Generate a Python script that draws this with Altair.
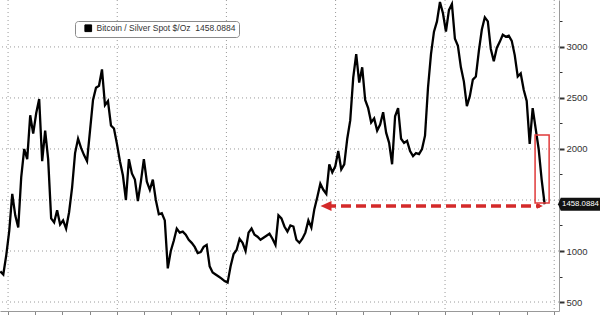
import altair as alt
import pandas as pd

# ---- data (10-day steps from 2020-12-06) ----
start_date = "2020-12-06"
ratio = [
    800, 770, 960, 1200, 1560, 1350, 1230, 1725, 2000, 1900,
    2330, 2150, 2350, 2490, 1880, 2180, 1900, 1320, 1280, 1400,
    1260, 1300, 1220, 1380, 1620, 1960, 2100, 2010, 1940, 1880,
    2180, 2480, 2600, 2620, 2780, 2430, 2470, 2230, 2200, 2050,
    1880, 1740, 1500, 1900, 1760, 1700, 1490, 1680, 1900, 1680,
    1600, 1700, 1500, 1360, 1370, 1300, 830, 1000, 1100, 1220,
    1180, 1190, 1160, 1110, 1080, 1040, 980, 990, 1040, 1060,
    850, 790, 770, 750, 730, 705, 690, 850, 970, 1010,
    1120, 1080, 1000, 1180, 1220, 1160, 1140, 1110, 1130, 1150,
    1170, 1120, 1060, 1350, 1320, 1240, 1190, 1250, 1240, 1110,
    1080, 1120, 1180, 1300, 1230, 1410, 1530, 1660, 1600, 1560,
    1850, 1770, 1830, 1980, 1800, 1850, 2100, 2280, 2700, 2930,
    2650, 2800, 2480, 2400, 2260, 2300, 2180, 2240, 2360, 2160,
    2060, 1850, 2320, 2400, 2100, 2060, 2080, 1980, 1930, 1960,
    1950, 2000, 2130, 2600, 2930, 3150, 3250, 3440, 3330, 3150,
    3360, 3420, 3080, 3010, 2800, 2660, 2420, 2520, 2680, 2710,
    2960, 3170, 3290, 3250, 2980, 2860, 2990, 3050, 3120, 3100,
    3110, 3060, 2920, 2710, 2740, 2580, 2470, 2050, 2400, 2200,
    2000, 1700, 1458.0884,
]
series_name = "Bitcoin / Silver Spot $/Oz\u00a0\u00a01458.0884"
last_value = 1458.0884
last_label = "1458.0884"

y_ticks = [500, 750, 1000, 1250, 1500, 1750, 2000, 2250, 2500, 2750, 3000, 3250]
y_labelled = [500, 1000, 2000, 2500, 3000]          # 1500 is hidden behind the last-value tag
y_grid = [500, 1000, 1500, 2000, 2500, 3000]
x_tick_years = [2021, 2022, 2023, 2024, 2025]
x_tick_months = [1, 4, 7, 10]
x_grid = ["2021-01-01", "2022-01-01", "2023-01-01", "2024-01-01", "2025-01-01", "2026-01-01"]

# annotation anchors (data space)
box_start, box_end = "2025-10-29", "2025-12-15"
box_low, box_high = 1470, 2137
arrow_start, arrow_end = "2023-11-30", "2025-11-14"
arrow_level = 1441

FONT = "Liberation Sans, Arial, sans-serif"
RED = "#d42a2a"
GRID = "#9a9a9a"

dates = pd.date_range(start_date, periods=len(ratio), freq="10D")
df = pd.DataFrame({"date": dates.strftime("%Y-%m-%d"), "ratio": ratio, "series": series_name})

x_values = [alt.DateTime(year=y, month=m, date=1, utc=True) for y in x_tick_years for m in x_tick_months]
x_values.append(alt.DateTime(year=2026, month=1, date=1, utc=True))

x_scale = alt.Scale(
    type="utc",
    domain=[alt.DateTime(year=2020, month=12, date=5, utc=True),
            alt.DateTime(year=2026, month=1, date=17, utc=True)],
)
y_scale = alt.Scale(domain=[412, 3460], nice=False, zero=False)

label_test = " || ".join(f"datum.value === {v}" for v in y_labelled)
x_axis = alt.Axis(
    values=x_values, labels=False, title=None, grid=False,
    tickSize=4, tickColor="#888", domainColor="#999",
)
y_axis = alt.Axis(
    orient="right", values=y_ticks, title=None, format="d", grid=False,
    labelExpr=f"({label_test}) ? datum.label : ''",
    labelFont=FONT, labelFontSize=9.5, labelColor="#333", labelPadding=2,
    tickColor="#333",
    tickSize={"condition": {"test": "datum.value % 500 === 0", "value": 5}, "value": 3},
    tickWidth={"condition": {"test": "datum.value % 500 === 0", "value": 2}, "value": 1},
    domainColor="#999",
)


def X(field):
    return alt.X(field, scale=x_scale, axis=x_axis)


def Y(field):
    return alt.Y(field, scale=y_scale, axis=y_axis)


hgrid = alt.Chart(pd.DataFrame({"v": y_grid})).mark_rule(
    color=GRID, strokeWidth=1, strokeDash=[1, 3]
).encode(y=Y("v:Q"))
vgrid = alt.Chart(pd.DataFrame({"d": x_grid})).mark_rule(
    color=GRID, strokeWidth=1, strokeDash=[1, 3]
).encode(x=X("d:T"))

line = alt.Chart(df).mark_line(strokeWidth=2.3, clip=True).encode(
    x=X("date:T"),
    y=Y("ratio:Q"),
    color=alt.Color(
        "series:N",
        scale=alt.Scale(range=["#000000"]),
        legend=alt.Legend(
            orient="none", legendX=75, legendY=21, title=None,
            fillColor="white", strokeColor="#8a8a8a", cornerRadius=3, padding=3,
            symbolType="square", symbolSize=45, symbolFillColor="#000",
            symbolStrokeColor="#000", symbolStrokeWidth=1, symbolOffset=6,
            labelFont=FONT, labelFontSize=8.5, labelColor="#333", labelOffset=4,
            labelLimit=400,
        ),
    ),
)

ann_box = pd.DataFrame({"x": [box_start], "x2": [box_end], "y": [box_low], "y2": [box_high]})
box = alt.Chart(ann_box).mark_rect(fill=None, stroke="#e03a3a", strokeWidth=1.5).encode(
    x=X("x:T"), x2="x2:T", y=Y("y:Q"), y2="y2:Q",
)

ann_arrow = pd.DataFrame({"x": [arrow_start], "x2": [arrow_end], "y": [arrow_level]})
dash = alt.Chart(ann_arrow).mark_rule(color=RED, strokeWidth=3.5, strokeDash=[10, 5]).encode(
    x=X("x:T"), x2="x2:T", y=Y("y:Q"),
)
left_head = alt.Chart(ann_arrow).mark_point(
    shape="M-1,0L1,-0.9L1,0.9Z", filled=True, color=RED, size=121, opacity=1
).encode(x=X("x:T"), y=Y("y:Q"))
right_head = alt.Chart(ann_arrow).mark_point(
    shape="M1,0L-1,-0.9L-1,0.9Z", filled=True, color=RED, size=36, opacity=1
).encode(x=X("x2:T"), y=Y("y:Q"))

tag = alt.Chart(pd.DataFrame({"v": [last_value]})).mark_point(
    shape="M-2,0L-1.75,-0.6L2,-0.6L2,0.6L-1.75,0.6Z", filled=True, color="#111", size=484, opacity=1
).encode(x=alt.value(580), y=Y("v:Q"))
tag_text = alt.Chart(pd.DataFrame({"v": [last_value], "t": [last_label]})).mark_text(
    color="white", font=FONT, fontSize=7.8, align="center", baseline="middle"
).encode(x=alt.value(580.5), y=Y("v:Q"), text="t:N")

chart = alt.layer(hgrid, vgrid, line, box, dash, left_head, right_head, tag, tag_text).properties(
    width=559, height=311,
    autosize=alt.AutoSizeParams(type="none"),
    padding={"left": 0, "top": 0, "right": 41, "bottom": 4},
    background="white",
).configure_view(stroke=None)

chart.save("out.html", embed_options={"renderer": "svg", "actions": False})
